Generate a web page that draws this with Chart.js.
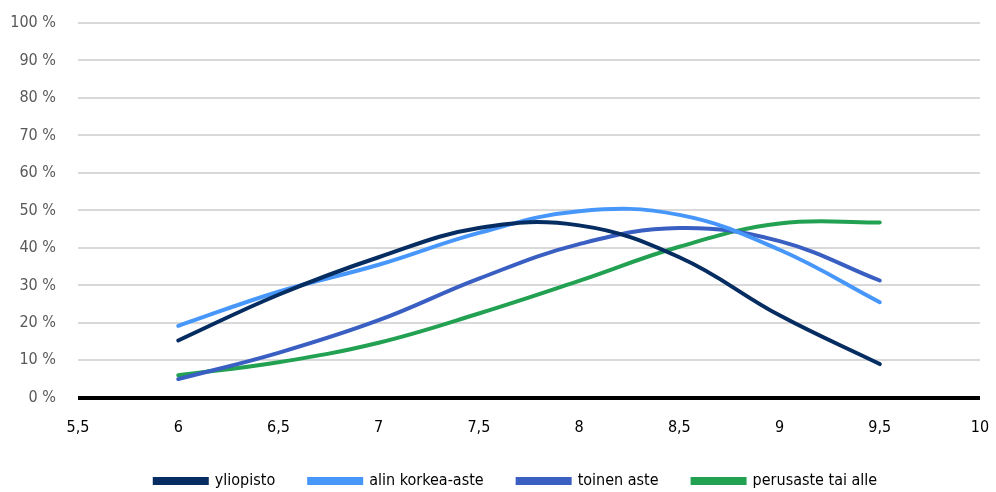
<!DOCTYPE html>
<html>
<head>
<meta charset="utf-8">
<script src="https://cdn.jsdelivr.net/npm/chart.js@4/dist/chart.umd.min.js"></script>
<style>
  html, body { margin: 0; padding: 0; background: #fff; }
  #wrap { width: 996px; height: 492px; }
</style>
</head>
<body>
<div id="wrap"><canvas id="chart" width="996" height="492"></canvas></div>
<script>
const xValues = [6, 6.5, 7, 7.5, 8, 8.5, 9, 9.5];
const yliopisto = [15.3, 27.5, 37.5, 45.3, 46, 37.5, 22, 9];
const alinKorkea = [19.2, 28.3, 35.5, 44, 49.8, 48.8, 39.5, 25.5];
const toinenAste = [5, 12, 20.7, 31.8, 41, 45.3, 41.8, 31.3];
const perusaste = [6, 9.5, 14.7, 22.5, 31.2, 40.3, 46.5, 46.8];

const seriesNames = ["yliopisto", "alin korkea-aste", "toinen aste", "perusaste tai alle"];
const seriesValues = [yliopisto, alinKorkea, toinenAste, perusaste];
const colors = ["#062d61", "#4797fb", "#3a5fc2", "#23a152"];

const font = "'DejaVu Sans Condensed', 'Liberation Sans Narrow', sans-serif";

const datasets = seriesNames.map((name, i) => ({
  label: name,
  data: xValues.map((x, j) => ({ x: x, y: seriesValues[i][j] })),
  borderColor: colors[i],
  backgroundColor: colors[i],
  borderWidth: 4,
  pointRadius: 0,
  tension: 0.4,
  borderCapStyle: "round",
  fill: false,
}));

// legend keeps wide horizontal spacing but a bit less height, nudged right
const tightLegend = {
  id: "tightLegend",
  beforeInit(chart) {
    const legend = chart.legend;
    const fit = legend.fit;
    const draw = legend.draw;
    legend.fit = function () {
      fit.call(this);
      this.height -= 7;
    };
    legend.draw = function () {
      const ctx = this.ctx;
      ctx.save();
      ctx.translate(14, 0);
      draw.call(this);
      ctx.restore();
    };
  },
};

new Chart(document.getElementById("chart"), {
  type: "line",
  data: { datasets: datasets },
  options: {
    responsive: false,
    animation: false,
    layout: { padding: { top: 4, right: 2, left: 10, bottom: 0 } },
    plugins: {
      legend: {
        position: "bottom",
        labels: {
          boxWidth: 52,
          boxHeight: 4,
          padding: 34,
          color: "#000",
          font: { family: font, size: 16 },
        },
      },
      tooltip: { enabled: false },
    },
    scales: {
      x: {
        type: "linear",
        min: 5.5,
        max: 10,
        grid: { display: false },
        border: { display: false },
        afterFit: (scale) => {
          scale.height -= 10;
          scale.paddingRight = 16;
        },
        ticks: {
          stepSize: 0.5,
          color: "#000",
          padding: 12,
          font: { family: font, size: 16 },
          callback: (v) => String(v).replace(".", ","),
        },
      },
      y: {
        min: 0,
        max: 100,
        border: { display: false },
        afterFit: (scale) => {
          scale.width = 68;
          scale.paddingTop = 23;
          scale.paddingBottom = 10;
        },
        grid: {
          color: (c) => (c.tick && c.tick.value === 0 ? "#000" : "#d9d9d9"),
          lineWidth: (c) => (c.tick && c.tick.value === 0 ? 4 : 2),
          drawTicks: false,
        },
        ticks: {
          stepSize: 10,
          color: "#595959",
          padding: 22,
          font: { family: font, size: 16 },
          callback: (v) => v + " %",
        },
      },
    },
  },
  plugins: [tightLegend],
});
</script>
</body>
</html>
